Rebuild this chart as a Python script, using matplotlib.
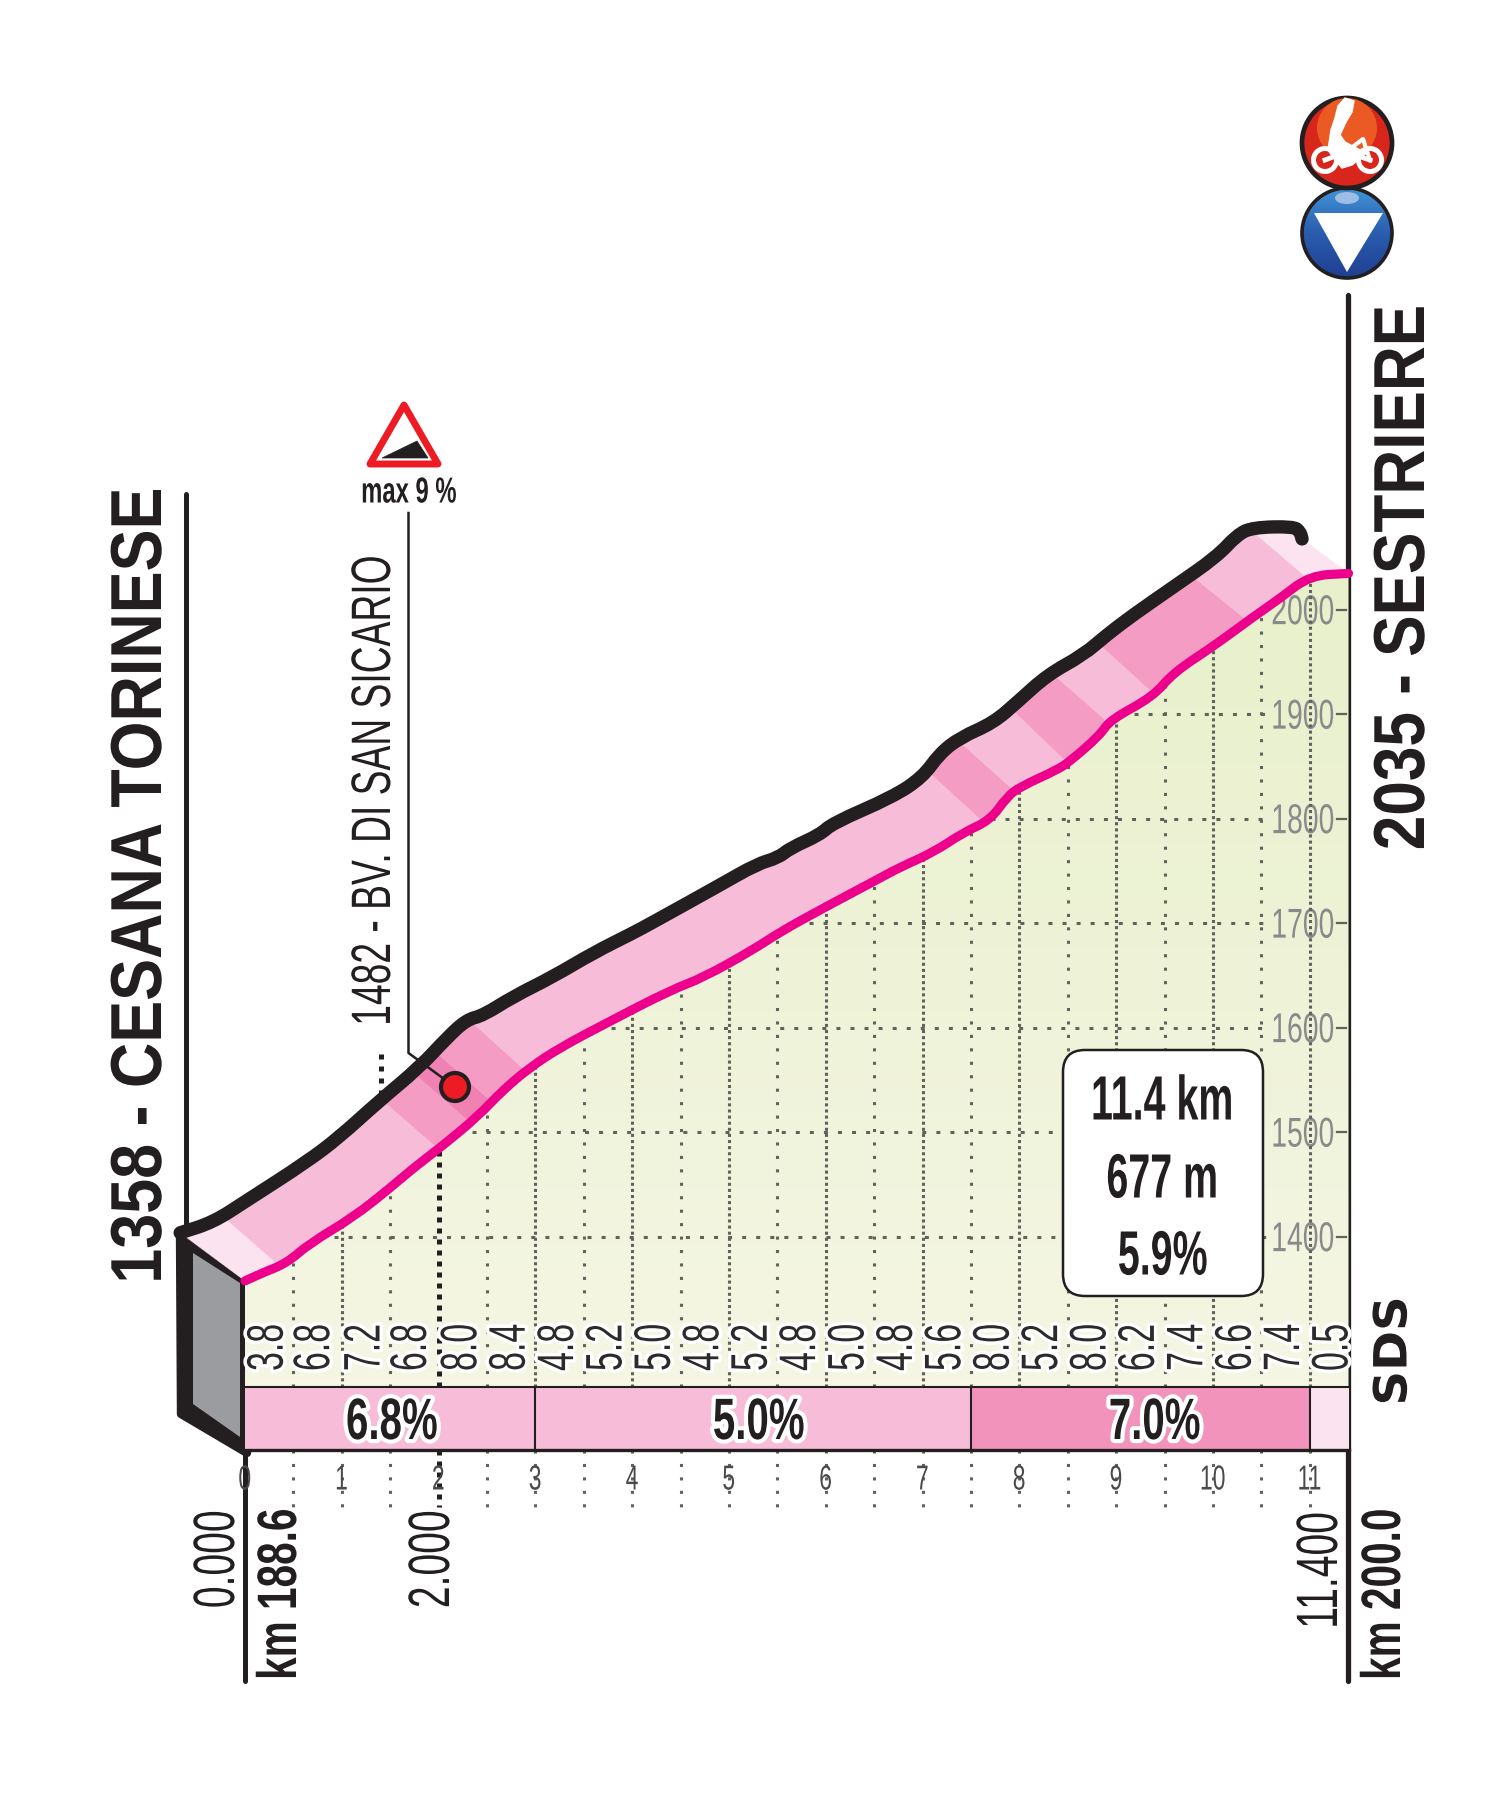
import numpy as np
import matplotlib
matplotlib.use("Agg")
from matplotlib import pyplot as plt
from matplotlib.patches import Polygon, Circle, Ellipse, FancyBboxPatch, PathPatch
from matplotlib.path import Path
from matplotlib.patheffects import AbstractPathEffect
from matplotlib.transforms import Affine2D

# road line, km / metres
road_km = [0, 0.19, 0.43, 0.67, 1.12, 1.50, 1.74, 2.05, 2.40, 2.67, 2.94, 3.25, 3.74, 4.39, 4.73, 5.25, 5.53, 5.94,
           6.53, 6.77, 7.11, 7.42, 7.70, 7.87, 8.01, 8.39, 8.52, 8.83, 8.94, 9.38, 9.59, 10.0, 10.41, 10.69, 11.0, 11.4]
road_elev = [1358, 1366, 1375, 1394, 1419, 1447, 1466, 1488, 1515, 1541, 1562, 1581, 1605, 1636, 1648, 1675, 1692, 1713,
             1742, 1754, 1768, 1787, 1799, 1821, 1831, 1847, 1855, 1880, 1895, 1917, 1940, 1965, 1993, 2011, 2033, 2035]

# black back edge of the ribbon
rim_km = [-0.67, -0.33, 0.02, 0.64, 0.98, 1.36, 1.81, 2.09, 2.29, 2.46, 2.77, 3.18, 3.60, 4.01, 4.21, 4.91, 5.29, 5.51,
          5.63, 5.94, 6.07, 6.69, 7.00, 7.18, 7.39, 7.73, 7.98, 8.29, 8.66, 8.90, 9.17, 9.59, 10.04, 10.25, 10.41, 10.83,
          10.90, 10.92]
rim_elev = [1404, 1414, 1435, 1472, 1496, 1528, 1563, 1591, 1608, 1612, 1630, 1649, 1672, 1691, 1701, 1737, 1757, 1763,
            1772, 1785, 1796, 1821, 1840, 1863, 1878, 1892, 1912, 1938, 1957, 1976, 1995, 2022, 2051, 2072, 2079, 2080,
            2075, 2068]

band_edges = [0, 0.36, 2.0, 2.33, 2.55, 2.9, 7.64, 7.95, 8.5, 8.92, 9.4, 10.36, 10.97, 11.4]
band_colors = ["#FBE3EF", "#F7BCD8", "#F49CC3", "#EF82B2", "#F49CC3", "#F7BCD8", "#F49CC3", "#F7BCD8", "#F49CC3",
               "#F7BCD8", "#F49CC3", "#F7BCD8", "#FBE3EF"]

grade_km = [0.22, 0.70, 1.22, 1.70, 2.22, 2.72, 3.22, 3.72, 4.22, 4.72, 5.22, 5.72, 6.22, 6.72, 7.22, 7.72, 8.22,
            8.72, 9.22, 9.72, 10.22, 10.72, 11.22]
grades = ["3.8", "6.8", "7.2", "6.8", "8.0", "8.4", "4.8", "5.2", "5.0", "4.8", "5.2", "4.8", "5.0", "4.8", "5.6",
          "8.0", "5.2", "8.0", "6.2", "7.4", "6.6", "7.4", "0.5"]

strip_left = [0, 3, 7.5, 11]
strip_width = [3, 4.5, 3.5, 0.4]
strip_colors = ["#F7BCD8", "#F7BCD8", "#F293BC", "#FBE3EF"]
strip_labels = ["6.8%", "5.0%", "7.0%"]
strip_label_km = [1.52, 5.31, 9.40]

elev_ticks = [1400, 1500, 1600, 1700, 1800, 1900, 2000]
km_ticks = list(range(12))

INK = "#231F20"
GRID = "#5F635B"
SANS = ["Liberation Sans"]
BASE = 1256.5
STRIP_BOTTOM = 1196.3


class Squeeze(AbstractPathEffect):
    # condensed lettering: narrows the glyphs along the baseline, optional white halo
    def __init__(self, sx, halo=0, halo_color="white"):
        super().__init__()
        self.sx = sx
        self.halo = halo
        self.halo_color = halo_color

    def draw_path(self, renderer, gc, tpath, affine, rgbFace=None):
        v = tpath.vertices[:, 0]
        cx = (v.min() + v.max()) / 2
        tr = Affine2D().translate(-cx, 0).scale(self.sx, 1).translate(cx, 0) + affine
        if self.halo:
            gc0 = renderer.new_gc()
            gc0.copy_properties(gc)
            gc0.set_linewidth(self.halo)
            gc0.set_foreground(self.halo_color)
            gc0.set_joinstyle("round")
            renderer.draw_path(gc0, tpath, tr, matplotlib.colors.to_rgba(self.halo_color))
            gc0.restore()
        renderer.draw_path(gc, tpath, tr, rgbFace)


def label(where, x, y, s, size, sq=0.82, rot=0, bold=False, halo=0, color=INK, zorder=10, family=SANS):
    return where.text(x, y, s, fontsize=size, rotation=rot, ha="center", va="center", color=color, zorder=zorder,
                      fontweight="bold" if bold else "normal", family=family,
                      path_effects=[Squeeze(sq, halo)])


def smooth_line(where, xs, ys, color, lw, zorder):
    # rounded corners: every read point is a control point of a quadratic curve
    pts = np.column_stack([xs, ys])
    mids = (pts[:-1] + pts[1:]) / 2
    verts = [pts[0], mids[0]]
    codes = [Path.MOVETO, Path.LINETO]
    for p, m in zip(pts[1:-1], mids[1:]):
        verts += [p, m]
        codes += [Path.CURVE3, Path.CURVE3]
    verts.append(pts[-1])
    codes.append(Path.LINETO)
    where.add_patch(PathPatch(Path(verts, codes), fc="none", ec=color, lw=lw, capstyle="round", joinstyle="round",
                              zorder=zorder))


fig = plt.figure(figsize=(15, 18.09), dpi=100)
back = fig.add_axes([0, 0, 1, 1], zorder=0)
ax = fig.add_axes([0, 0, 1, 1], zorder=1)
px = fig.add_axes([0, 0, 1, 1], zorder=2)
for a in (back, px):
    a.set_xlim(0, 1500)
    a.set_ylim(1809, 0)
    a.set_axis_off()

# ground below the road, light gradient
xs = np.array(road_km + [11.4, 0])
ys = np.array(road_elev + [BASE, BASE])
ground = Polygon(np.column_stack([xs, ys]), closed=True, fc="none", ec="none")
ax.add_patch(ground)
ramp = np.linspace(0, 1, 128)[:, None]
cmap = matplotlib.colors.LinearSegmentedColormap.from_list("g", ["#F5F6E4", "#E8F0CB"])
im = ax.imshow(ramp, extent=[0, 11.4, BASE, 2040], origin="lower", aspect="auto", cmap=cmap, zorder=1)
im.set_clip_path(ground)

ax.set_xlim(-245 / 96.8, (1500 - 245) / 96.8)
ax.set_ylim(1400 - 572 / 1.045, 1400 + 1237 / 1.045)
ax.set_axis_off()

# elevation labels sit under the grid dots
for e in elev_ticks:
    ax.text((1303 - 245) / 96.8, e - 3, str(e), fontsize=30, family=SANS, color="#8A8A8A", ha="center", va="center",
            zorder=1.5, path_effects=[Squeeze(0.68)])
    ax.plot([np.interp(e, road_elev, road_km), (1268 - 245) / 96.8], [e, e], color=GRID, lw=2.2,
            ls=(0, (1.3, 3.3)), zorder=2)
    ax.plot([(1337 - 245) / 96.8, (1346 - 245) / 96.8], [e, e], color=GRID, lw=1.6, zorder=2)

# grid dots every half km, finer on whole km
for i in range(1, 23):
    k = i / 2
    if k == 2:
        continue
    top = np.interp(k, road_km, road_elev)
    dash = (0, (1, 1)) if i % 2 == 0 else (0, (1, 3.4))
    ax.plot([k, k], [BASE, top], color=GRID, lw=2.2, ls=dash, zorder=2)
    ax.plot([k, k], [STRIP_BOTTOM, 1400 - 270 / 1.045], color=GRID, lw=2.2, ls=(0, (1, 3.4)), zorder=2)
ax.plot([2, 2], [BASE, 1482], color=INK, lw=3.6, ls=(0, (1, 1.2)), zorder=2)
ax.plot([2, 2], [STRIP_BOTTOM, 1400 - 270 / 1.045], color=INK, lw=3.6, ls=(0, (1, 1.2)), zorder=2)
ax.plot([1.40, 1.40], [1536, 1577], color=INK, lw=3.6, ls=(0, (1, 1.4)), zorder=2)

# ribbon between road and back edge, band by band
for k0, k1, c in zip(band_edges[:-1], band_edges[1:], band_colors):
    rk = np.array(road_km)
    mask = (rk > k0) & (rk < k1)
    low_x = [k0] + list(rk[mask]) + [k1]
    low_y = list(np.interp(low_x, road_km, road_elev))
    tk = np.array(rim_km)
    t0 = -0.67 if k0 == 0 else k0 - 0.59
    t1 = 10.92 if k1 == 11.4 else k1 - 0.59
    mask = (tk > t0) & (tk < t1)
    up_x = [t0] + list(tk[mask]) + [t1]
    up_y = list(np.interp(up_x, rim_km, rim_elev))
    poly = list(zip(low_x, low_y)) + list(zip(up_x, up_y))[::-1]
    ax.add_patch(Polygon(poly, closed=True, fc=c, ec=c, lw=0.3, zorder=3))

smooth_line(ax, rim_km, rim_elev, INK, 9.6, 4)
smooth_line(ax, road_km, road_elev, "#EC008C", 6.6, 5)

# gradient strip
ax.bar(strip_left, [BASE - STRIP_BOTTOM] * 4, width=strip_width, bottom=STRIP_BOTTOM, align="edge",
       color=strip_colors, zorder=3)
ax.plot([0, 11.4], [BASE, BASE], color=INK, lw=1.5, zorder=4)
ax.plot([0, 11.4], [STRIP_BOTTOM, STRIP_BOTTOM], color=INK, lw=2.4, zorder=4)
for k in strip_left[1:]:
    ax.plot([k, k], [STRIP_BOTTOM, BASE], color=INK, lw=1.5, zorder=4)
for k, s in zip(strip_label_km, strip_labels):
    label(ax, k, 1400 - 187 / 1.045, s, 42, sq=0.69, bold=True, halo=6)

for k, s in zip(grade_km, grades):
    label(ax, k + 0.03, 1400 - 110 / 1.045, s, 37, sq=0.66, rot=90, halo=5, color="#2B2B2B")

for k in km_ticks:
    label(ax, k, 1400 - 243 / 1.045, str(k), 25, sq=0.66, color="#4A4A4A")

# side of the block and frame lines
back.add_patch(Polygon([(180, 1236), (247, 1280), (247, 1453), (181, 1414)], closed=True, fc=INK, ec=INK, lw=6,
                       joinstyle="round", zorder=2))
back.add_patch(Polygon([(193, 1253), (240, 1283), (240, 1437), (193, 1404)], closed=True, fc="#9B9CA0", ec="none",
                       zorder=3))
back.plot([186, 186], [494, 1238], color=INK, lw=3.6, solid_capstyle="round", zorder=1)
back.plot([1348, 1348], [295, 1681], color=INK, lw=3.8, solid_capstyle="round", zorder=4)
back.plot([245, 245], [1450, 1681], color=INK, lw=3.6, solid_capstyle="round", zorder=1)

label(px, 142, 885, "1358 - CESANA TORINESE", 52, sq=0.87, rot=90, bold=True)
label(px, 1405, 577, "2035 - SESTRIERE", 52, sq=0.86, rot=90, bold=True)
label(px, 376, 791, "1482 - BV. DI SAN SICARIO", 40, sq=0.67, rot=90)
label(px, 409, 493, "max 9 %", 26, sq=0.66, bold=True)

label(px, 219, 1559, "0.000", 42, sq=0.67, rot=90)
label(px, 282, 1594, "km 188.6", 40, sq=0.73, rot=90, bold=True)
label(px, 434, 1559, "2.000", 42, sq=0.67, rot=90)
label(px, 1322, 1570, "11.400", 42, sq=0.67, rot=90)
label(px, 1386, 1594, "km 200.0", 40, sq=0.73, rot=90, bold=True)
label(px, 1394, 1351, "SDS", 33, sq=1.05, rot=90, bold=True, halo=3, family=["DejaVu Sans"])

# summit note with leader and red dot
px.plot([408.5, 408.5, 455], [513, 1053, 1087], color=INK, lw=1.8, zorder=5)
px.add_patch(Circle((455, 1087), 14, fc="#ED1C24", ec=INK, lw=3, zorder=6))
px.add_patch(Polygon([(404, 405), (370, 464), (438, 464)], closed=True, fc="white", ec="#ED1C24", lw=5,
                     joinstyle="round", zorder=5))
px.add_patch(Polygon([(382, 458), (417, 441), (428, 458)], closed=True, fc=INK, ec=INK, lw=0.5, zorder=6))

# info box
px.add_patch(FancyBboxPatch((1063, 1050), 200, 246, boxstyle="round,pad=0,rounding_size=22", fc="white", ec=INK,
                            lw=1.8, zorder=5))
label(px, 1163, 1103, "11.4 km", 45, sq=0.63, bold=True)
label(px, 1163, 1181, "677 m", 45, sq=0.63, bold=True)
label(px, 1163, 1258, "5.9%", 45, sq=0.63, bold=True)

# finish icons
blue = Circle((1347, 233), 45, fc="none", ec="none")
px.add_patch(blue)
blue_cmap = matplotlib.colors.LinearSegmentedColormap.from_list("b", ["#1F3F93", "#2A5DAE", "#3F93D6"])
bim = px.imshow(np.linspace(0, 1, 64)[:, None], extent=[1300, 1394, 278, 188], origin="lower", aspect="auto",
                cmap=blue_cmap, zorder=3)
bim.set_clip_path(blue)
px.set_xlim(0, 1500)
px.set_ylim(1809, 0)
px.add_patch(Circle((1347, 233), 45, fc="none", ec=INK, lw=2.6, zorder=4))
px.add_patch(Ellipse((1347, 198), 24, 12, fc="#9DBDE6", ec="none", zorder=4))
px.add_patch(Polygon([(1314, 213), (1383, 213), (1347, 272)], closed=True, fc="white", ec="none", zorder=4))

px.add_patch(Circle((1347, 143), 45, fc="#D9261C", ec=INK, lw=3.4, zorder=5))
px.add_patch(Circle((1347, 128), 30, fc="#EA5A22", ec="none", zorder=5))
for wx in (1325, 1370):
    px.add_patch(Circle((wx, 160), 11.5, fc="none", ec="white", lw=3.6, zorder=6))
px.plot([1325, 1346, 1370], [160, 152, 160], color="white", lw=3.5, zorder=6)
px.plot([1346, 1363, 1370], [152, 139, 160], color="white", lw=3, zorder=6)
px.add_patch(Polygon([(1345, 98), (1354, 101), (1352, 112), (1346, 122), (1340, 135), (1345, 142), (1360, 150),
                      (1366, 147), (1368, 152), (1352, 165), (1342, 168), (1335, 160), (1328, 150), (1331, 130),
                      (1335, 118), (1338, 106)], closed=True, fc="white", ec="white", lw=1, zorder=6))

fig.savefig("out.png", dpi=100)
